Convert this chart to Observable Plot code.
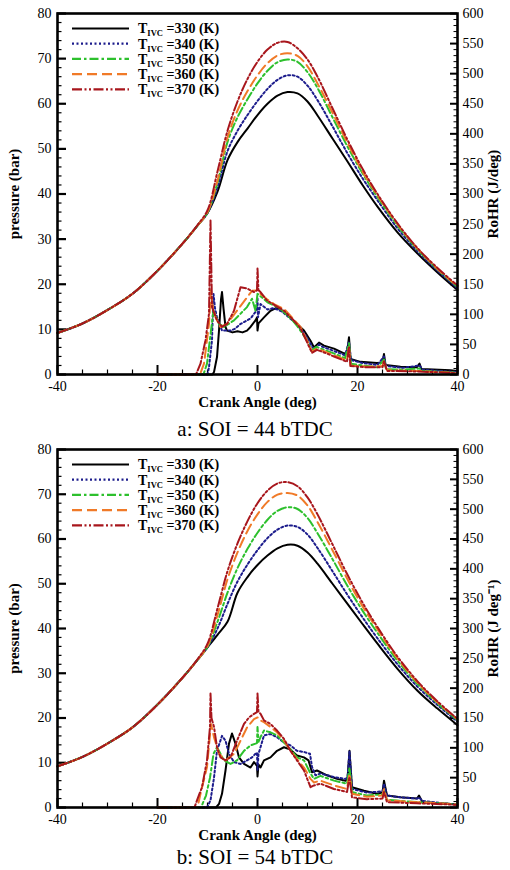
<!DOCTYPE html>
<html><head><meta charset="utf-8">
<script src="https://cdn.jsdelivr.net/npm/d3@7"></script>
<script src="https://cdn.jsdelivr.net/npm/@observablehq/plot@0.6"></script>
<style>
html,body{margin:0;padding:0;background:#fff;}
#wrap{position:relative;width:510px;height:870px;overflow:hidden;font-family:"Liberation Serif","Times New Roman",serif;}
.panel{position:absolute;left:0;}
.cap{position:absolute;left:0;width:510px;text-align:center;font-size:21px;line-height:24px;color:#000;}
</style></head><body><div id="wrap"></div>
<script>
// ---------- data ----------
const series = ["330", "340", "350", "360", "370"];
const seriesColors = ["#000000", "#1c1c8c", "#2dc02d", "#f07a28", "#a8161c"];
const seriesDashes = [null, "2,2.5", "9,3,2.5,3", "10,5", "10,2.5,2,2.5,2,2.5"];

const angle = [-40,-35,-30,-25,-20,-15,-12,-10,-8,-6,-4,-2,0,2,4,6,8,10,12,15,18,21,24,28,32,36,40];

// panel a: SOI = 44 bTDC, pressure (bar)
const pA330 = [9.2,11.3,14.3,17.9,23.0,29.0,33.0,35.8,40.5,47.5,51.5,54.5,57.5,60.0,61.8,62.6,62.3,60.5,57.4,52.3,47.2,42.0,37.2,31.5,26.8,22.6,18.7];
const pA340 = [9.2,11.3,14.3,17.9,23.0,29.0,33.0,35.8,41.5,49.5,54.0,57.5,60.6,63.3,65.3,66.3,66.0,64.0,60.8,55.0,49.0,43.5,38.6,32.4,27.3,23.0,19.1];
const pA350 = [9.2,11.3,14.3,17.9,23.0,29.0,33.0,35.9,42.5,51.5,57.0,61.0,64.5,67.3,69.2,69.8,69.3,67.0,63.5,57.0,50.5,44.6,39.3,33.0,27.7,23.3,19.4];
const pA360 = [9.2,11.3,14.3,17.9,23.0,29.0,33.0,36.0,43.0,52.5,58.5,62.8,66.3,69.0,70.7,71.2,70.6,68.3,64.5,58.0,51.3,45.0,39.7,33.3,27.9,23.4,19.5];
const pA370 = [9.2,11.3,14.3,17.9,23.0,29.0,33.1,36.4,45.0,54.0,60.5,65.5,69.3,72.0,73.5,73.7,72.3,69.8,66.0,59.0,52.0,45.6,40.0,33.5,28.0,23.6,19.7];

// panel b: SOI = 54 bTDC, pressure (bar)
const pB330 = [9.2,11.3,14.3,17.9,23.0,29.0,33.0,35.8,38.6,41.5,48.0,51.5,54.2,56.3,57.9,58.7,58.5,57.0,54.5,50.0,45.5,41.0,36.6,31.0,26.1,22.1,18.4];
const pB340 = [9.2,11.3,14.3,17.9,23.0,29.0,33.0,35.8,40.0,45.5,50.5,54.3,57.5,60.2,62.1,63.0,62.7,61.0,58.0,52.8,47.5,42.5,37.8,32.0,27.0,22.9,19.2];
const pB350 = [9.2,11.3,14.3,17.9,23.0,29.0,33.0,35.9,41.5,48.0,53.5,57.8,61.4,64.3,66.3,67.1,66.7,64.7,61.3,55.5,49.5,44.0,39.0,32.8,27.6,23.3,19.5];
const pB360 = [9.2,11.3,14.3,17.9,23.0,29.0,33.0,36.1,43.0,51.0,57.0,61.8,65.5,68.3,69.9,70.3,69.7,67.5,63.8,57.5,51.0,45.0,39.8,33.3,27.9,23.5,19.7];
const pB370 = [9.2,11.3,14.3,17.9,23.0,29.0,33.1,36.6,44.5,52.8,59.0,64.0,68.0,70.8,72.4,72.7,71.8,69.3,65.5,58.8,52.0,45.8,40.3,33.7,28.2,23.7,19.8];

// RoHR (J/deg) as [crank angle, value]
const rA330 = [[-20,0],[-9,0],[-8.7,4],[-8.1,29],[-7.7,73],[-7.3,125],[-7.1,137],[-6.8,110],[-6.4,79],[-6.1,73],[-5,70],[-4,72],[-3,70],[-2.1,73],[-1.4,79],[-0.4,90],[-0.1,95],[0,73],[0.2,85],[1.3,95],[2.6,106],[3.9,111],[5.3,104],[6.6,95],[7.9,84],[9.3,73],[10.6,56],[11.3,45],[12.3,53],[13.3,48],[15.3,43],[17.3,35],[17.9,36],[18.3,62],[18.6,26],[20.6,21],[23.9,19],[25,20],[25.3,34],[25.6,16],[28.6,13],[31.9,12],[32.4,18],[32.8,9],[38.6,7],[40,6]];
const rA340 = [[-20,0],[-10,0],[-9.7,12],[-9.1,57],[-8.8,134],[-8.5,110],[-8.1,95],[-7.1,73],[-5.4,73],[-4.5,76],[-3.4,84],[-1.4,93],[-0.4,104],[-0.1,108],[0,128],[0.1,95],[0.6,117],[2,108],[3,110],[4,108],[5,104],[6,97],[7,90],[8,82],[9,72],[10,60],[11,45],[11.5,42],[12.3,50],[13,46],[15,40],[17.5,32],[18.3,55],[18.7,24],[21,19],[24,16],[25.3,30],[25.7,14],[29,11],[32.4,15],[33,8],[38,5],[40,4]];
const rA350 = [[-20,0],[-10.8,0],[-10.1,18],[-9.3,73],[-8.8,106],[-8.5,100],[-7.7,84],[-6.7,79],[-4.7,90],[-2.1,112],[-1.1,126],[-0.4,106],[0,134],[0.9,128],[2,120],[3,116],[4,112],[5,106],[6,98],[7,90],[8,80],[9,68],[10,55],[10.8,40],[11.8,46],[13,42],[15,36],[17.5,27],[18.3,52],[18.7,18],[21,15],[24,12],[25.3,25],[25.7,9],[29,8],[32.4,10],[33,6],[38,4],[40,3]];
const rA360 = [[-20,0],[-11.5,0],[-10.7,18],[-9.7,84],[-9.3,140],[-9.0,115],[-8.4,95],[-7.4,79],[-6.1,84],[-4.1,106],[-2.1,128],[-1.1,139],[0,140],[0.6,134],[1.9,125],[3.5,116],[5.3,109],[7,94],[8.6,79],[10,55],[10.9,38],[11.9,43],[13.5,38],[15.3,32],[17.9,23],[18.3,48],[18.6,15],[21.9,13],[25,14],[25.3,23],[25.9,7],[31.9,6],[38.6,3],[40,3]];
const rA370 = [[-20,0],[-12.3,0],[-11.4,18],[-10.4,57],[-9.7,101],[-9.4,256],[-9.1,112],[-8.1,90],[-7.1,79],[-6.1,84],[-4.7,106],[-3.4,145],[-2.1,143],[-0.7,137],[-0.1,140],[0,176],[0.2,140],[0.6,137],[1.9,123],[3.5,115],[5.3,106],[7,92],[8.6,77],[10,52],[10.9,36],[11.9,41],[13.5,36],[15.3,30],[17.9,21],[18.3,45],[18.6,14],[21.9,12],[25,12],[25.3,22],[25.9,6],[31.9,5],[38.6,3],[40,2]];

const rB330 = [[-20,0],[-8.3,0],[-7.7,6],[-7.1,23],[-6.4,62],[-5.7,107],[-5.1,124],[-4.4,107],[-3.7,84],[-2.7,73],[-1.4,67],[-0.7,76],[-0.1,70],[0,52],[0.2,72],[0.6,67],[1.3,79],[2.6,84],[3.9,95],[5.3,101],[6.6,97],[7.9,87],[9.3,84],[10.2,79],[10.9,59],[11.9,62],[13.9,54],[15.9,48],[17.6,45],[18.0,48],[18.4,95],[18.9,34],[21.3,28],[23.9,23],[25,25],[25.3,45],[25.9,20],[28.6,17],[31.9,15],[32.3,20],[33,9],[38.6,6],[40,5]];
const rB340 = [[-20,0],[-10.1,0],[-9.4,12],[-8.7,50],[-8.1,95],[-7.1,120],[-6.4,112],[-5.7,90],[-4.7,76],[-3.4,73],[-2.1,79],[-1.1,84],[-0.4,90],[-0.1,92],[0,62],[0.2,90],[0.6,101],[1.3,121],[2.6,123],[3.9,118],[5.3,109],[6.6,104],[7.9,95],[9.3,93],[10.5,90],[10.9,68],[11.6,54],[12.6,57],[15.3,51],[17.6,48],[18,50],[18.4,95],[18.9,31],[21.9,25],[25,27],[25.3,40],[25.9,20],[28.6,17],[32,15],[32.3,17],[33,11],[38.6,6],[40,5]];
const rB350 = [[-20,0],[-11.3,0],[-10.3,20],[-9.5,50],[-8.8,90],[-8.1,101],[-6.7,79],[-5.4,73],[-4.1,79],[-2.7,95],[-1.4,104],[-0.4,107],[-0.1,108],[0,135],[0.2,110],[0.6,118],[1.3,129],[2.6,126],[3.9,121],[5.3,109],[6.6,98],[7.9,84],[9.3,79],[10.6,57],[11.3,48],[12.6,53],[15.3,45],[17.9,40],[18.4,67],[18.9,26],[21.9,20],[25,22],[25.3,28],[25.9,13],[31.9,9],[38.6,6],[40,5]];
const rB360 = [[-20,0],[-12,0],[-11.4,23],[-10.1,68],[-9.3,140],[-8.7,118],[-7.7,90],[-6.4,79],[-4.7,90],[-3.4,112],[-2.1,134],[-0.7,148],[0,151],[0.6,146],[1.3,143],[2.6,135],[3.9,126],[5.3,112],[6.6,95],[7.9,81],[9.3,67],[10.6,48],[11.3,42],[12.6,45],[15.3,37],[17.9,31],[18.4,57],[18.9,23],[21.9,18],[25,20],[25.3,31],[25.9,12],[31.9,9],[38.6,6],[40,5]];
const rB370 = [[-20,0],[-12.6,0],[-12.1,12],[-11.1,34],[-10.1,79],[-9.5,135],[-9.4,191],[-9.2,150],[-8.7,135],[-8.1,101],[-7.4,84],[-6.4,79],[-5.4,84],[-4.1,112],[-2.7,140],[-1.7,151],[-0.7,157],[-0.1,160],[0,191],[0.2,160],[0.6,157],[1.3,146],[2.6,140],[3.9,129],[5.3,115],[6.6,95],[7.9,79],[9.3,62],[10.6,34],[11.3,37],[12.6,40],[15.3,31],[17.9,26],[18.4,51],[18.9,17],[21.9,14],[25,15],[25.3,26],[25.9,9],[31.9,7],[38.6,5],[40,4]];

// axes
const pressureMax = 80, rohrMax = 600;
const xMajor = [-40, -20, 0, 20, 40];
const xMinorStep = 5;
const pMajor = [0, 10, 20, 30, 40, 50, 60, 70, 80];
const pMinorStep = 2;
const rMajor = [0, 50, 100, 150, 200, 250, 300, 350, 400, 450, 500, 550, 600];
const rMinorStep = 10;
const captions = ["a: SOI = 44 bTDC", "b: SOI = 54 bTDC"];
const rightLabels = ["RoHR (J/deg)", "RoHR (J deg\u207B\u00B9)"];

// ---------- drawing ----------
const FONT = '"Liberation Serif", "Times New Roman", serif';
const RATIO = rohrMax / pressureMax;
const W = 510, ML = 57, MR = 53, MT = 13;
const plotW = W - ML - MR;

function legendMark(index, scales, values, dims) {
  const g = d3.create("svg:g");
  const left = dims ? dims.marginLeft : ML, top = dims ? dims.marginTop : MT;
  series.forEach((s, i) => {
    const y = top + 15.5 + i * 15.2;
    g.append("line").attr("x1", left + 15).attr("x2", left + 72).attr("y1", y).attr("y2", y)
      .attr("stroke", seriesColors[i]).attr("stroke-width", 2.2)
      .attr("stroke-dasharray", seriesDashes[i]);
    const t = g.append("text").attr("x", left + 81).attr("y", y).attr("dy", "0.35em")
      .attr("text-anchor", "start")
      .attr("font-weight", "bold").attr("font-size", 14).attr("fill", "#000");
    t.append("tspan").text("T");
    t.append("tspan").attr("font-size", 8.5).attr("dy", 3).text("IVC");
    t.append("tspan").attr("dy", -3).text(" =" + s + " (K)");
  });
  return g.node();
}

function panel(pres, rohr, rightLabel, height, marginBottom) {
  const plotH = height - MT - marginBottom;
  const marks = [];
  const xMinor = d3.range(-40, 41, xMinorStep).filter(v => !xMajor.includes(v));
  const pMinor = d3.range(0, pressureMax + 1, pMinorStep).filter(v => !pMajor.includes(v));
  const rMinor = d3.range(0, rohrMax + 1, rMinorStep).filter(v => !rMajor.includes(v));
  marks.push(Plot.ruleX(xMinor, {insetTop: plotH - 4.5, stroke: "#000", strokeWidth: 1.2}));
  marks.push(Plot.ruleX(xMajor, {insetTop: plotH - 9, stroke: "#000", strokeWidth: 2}));
  marks.push(Plot.ruleY(pMinor, {insetRight: plotW - 4.5, stroke: "#000", strokeWidth: 1.2}));
  marks.push(Plot.ruleY(pMajor, {insetRight: plotW - 9, stroke: "#000", strokeWidth: 2.2}));
  marks.push(Plot.ruleY(rMinor.map(v => v / RATIO), {insetLeft: plotW - 3.5, stroke: "#000", strokeWidth: 1}));
  marks.push(Plot.ruleY(rMajor.map(v => v / RATIO), {insetLeft: plotW - 7, stroke: "#000", strokeWidth: 2}));
  series.forEach((s, i) => {
    const rows = angle.map((a, j) => ({a, v: pres[i][j]}));
    marks.push(Plot.line(rows, {x: "a", y: "v", curve: "catmull-rom", stroke: seriesColors[i],
      strokeWidth: 2, strokeDasharray: seriesDashes[i]}));
  });
  series.forEach((s, i) => {
    marks.push(Plot.line(rohr[i], {x: d => d[0], y: d => d[1] / RATIO, curve: "linear",
      stroke: seriesColors[i], strokeWidth: 2, strokeDasharray: seriesDashes[i]}));
  });
  marks.push(Plot.frame({stroke: "#000", strokeWidth: 2.6}));
  marks.push(Plot.axisX({ticks: xMajor, tickFormat: d => String(d), tickSize: 0, tickPadding: 7,
    fontSize: 14, label: null}));
  marks.push(Plot.axisY({ticks: pMajor, tickFormat: d => String(d), tickSize: 0, tickPadding: 6,
    fontSize: 14, label: null}));
  marks.push(Plot.axisY({anchor: "right", ticks: rMajor.map(v => v / RATIO), tickFormat: d => String(Math.round(d * RATIO)),
    tickSize: 0, tickPadding: 5, fontSize: 14, label: null}));
  marks.push(Plot.text(["pressure (bar)"], {frameAnchor: "left", dx: -43, rotate: -90, textAnchor: "middle",
    fontWeight: "bold", fontSize: 15}));
  marks.push(Plot.text([rightLabel], {frameAnchor: "right", dx: 36, rotate: -90, textAnchor: "middle",
    fontWeight: "bold", fontSize: 15}));
  marks.push(Plot.text(["Crank Angle (deg)"], {frameAnchor: "bottom", dy: 22, lineAnchor: "top", textAnchor: "middle",
    fontWeight: "bold", fontSize: 15}));
  marks.push(legendMark);
  const svg = Plot.plot({
    width: W, height,
    marginLeft: ML, marginRight: MR, marginTop: MT, marginBottom,
    x: {domain: [-40, 40]},
    y: {domain: [0, pressureMax]},
    style: {fontSize: "14px", color: "#000", background: "#fff", overflow: "visible"},
    marks
  });
  svg.setAttribute("font-family", FONT);
  d3.select(svg).selectAll("text, g").style("font-family", FONT);
  return svg;
}

const wrap = document.getElementById("wrap");
const layouts = [
  {pres: [pA330, pA340, pA350, pA360, pA370], rohr: [rA330, rA340, rA350, rA360, rA370], top: 0, height: 412, mb: 38, capTop: 417},
  {pres: [pB330, pB340, pB350, pB360, pB370], rohr: [rB330, rB340, rB350, rB360, rB370], top: 436, height: 407, mb: 36, capTop: 845}
];
layouts.forEach((L, k) => {
  const svg = panel(L.pres, L.rohr, rightLabels[k], L.height, L.mb);
  svg.classList.add("panel");
  svg.style.position = "absolute";
  svg.style.top = L.top + "px";
  svg.style.left = "0px";
  svg.style.fontFamily = FONT;
  wrap.appendChild(svg);
  const cap = document.createElement("div");
  cap.className = "cap";
  cap.style.top = L.capTop + "px";
  cap.textContent = captions[k];
  wrap.appendChild(cap);
});
</script></body></html>
